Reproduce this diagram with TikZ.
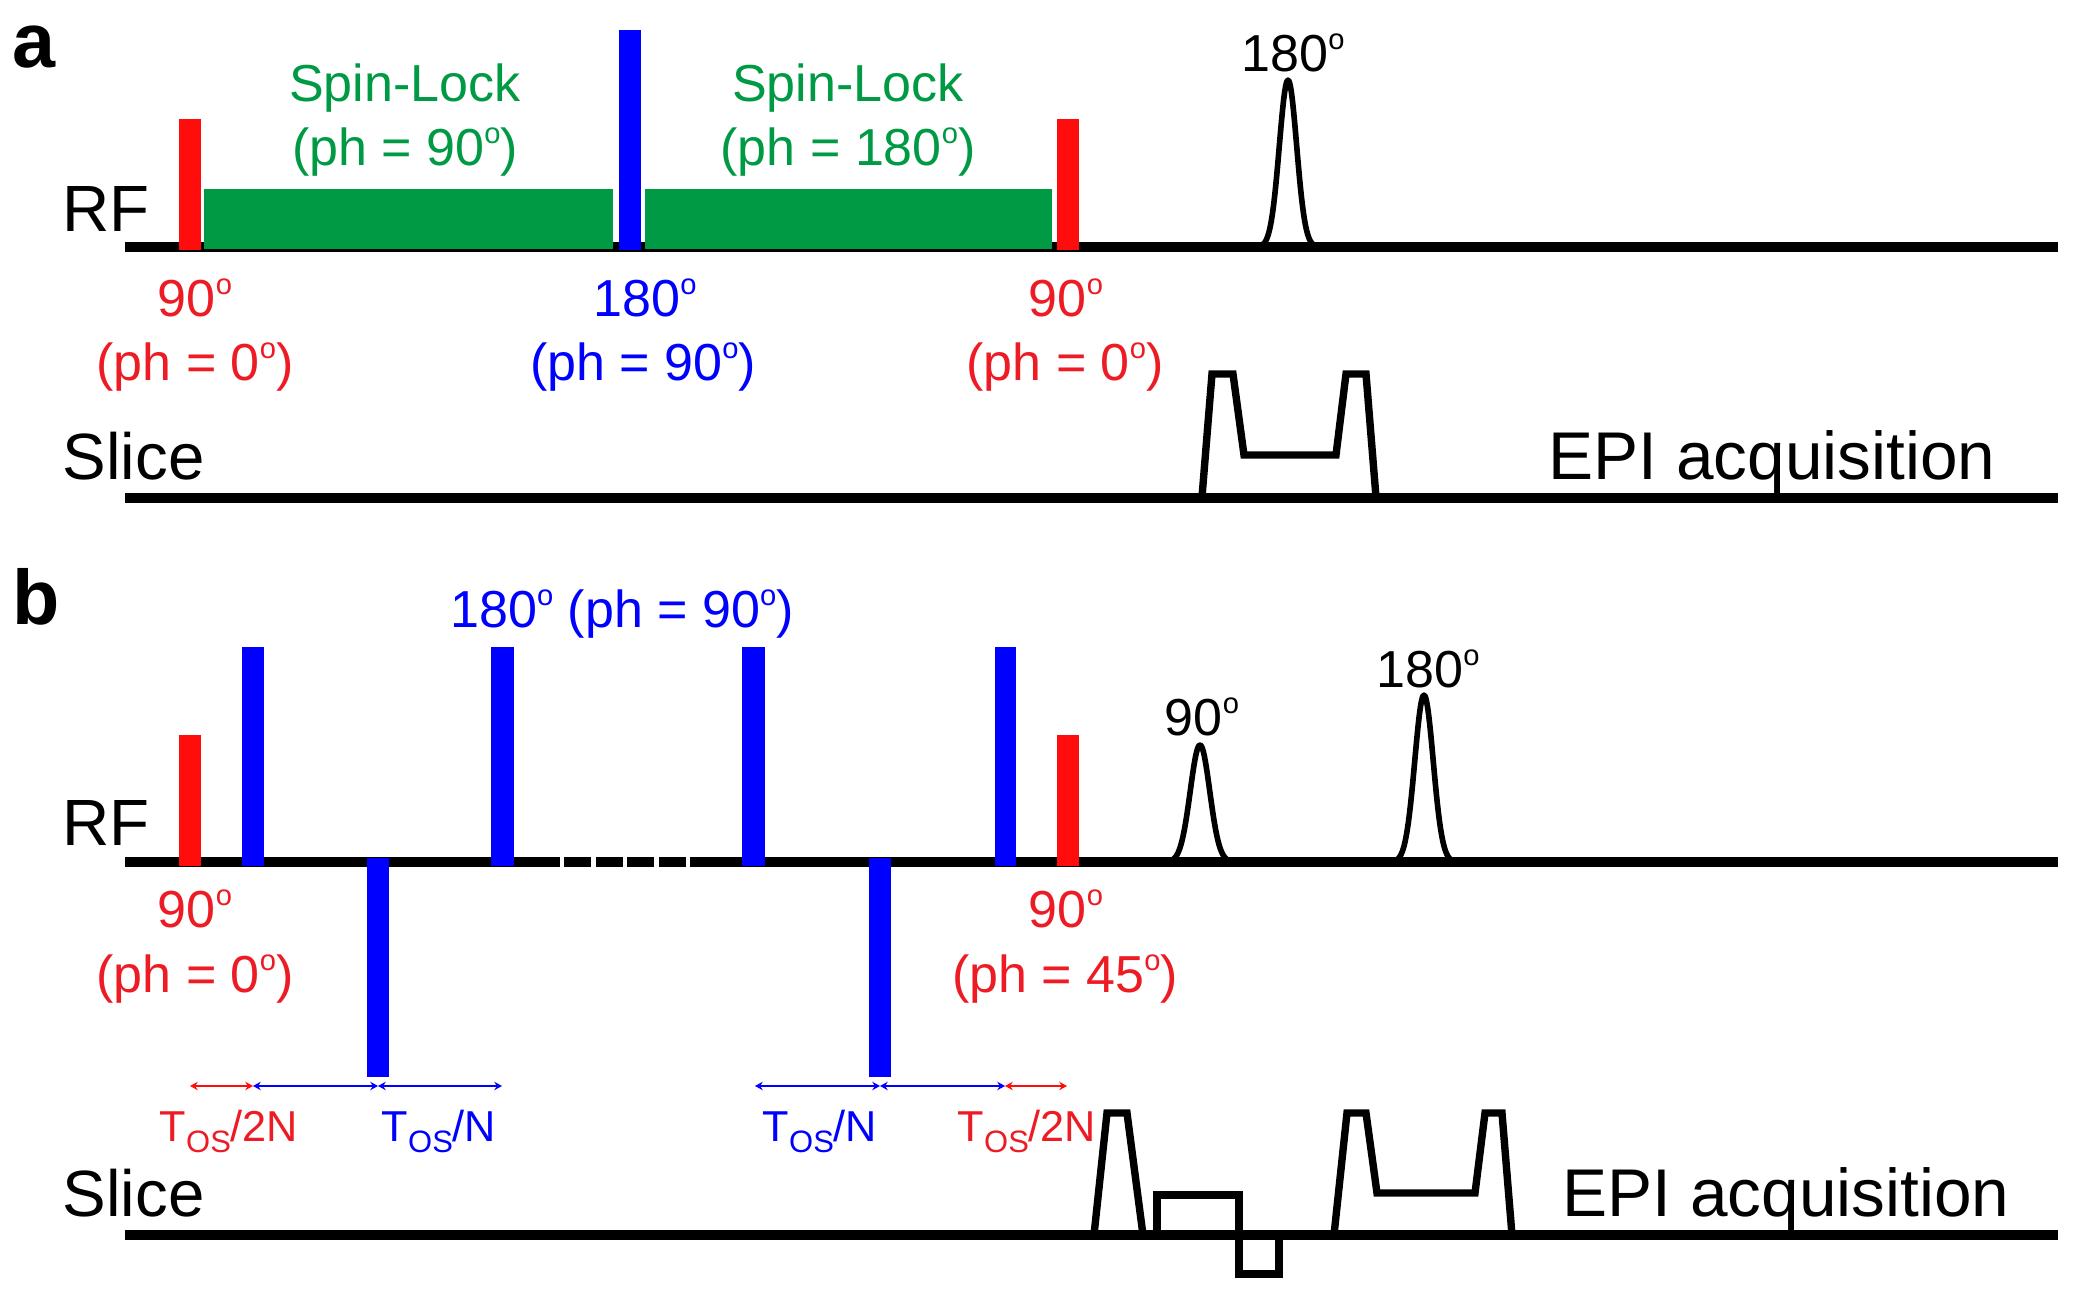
\documentclass[tikz,border=0pt]{standalone}
\usepackage{fontspec}
\setmainfont{Liberation Sans}
\usetikzlibrary{arrows.meta}
\definecolor{rfred}{RGB}{255,12,12}
\definecolor{txtred}{RGB}{237,28,36}
\definecolor{pblue}{RGB}{0,0,255}
\definecolor{slgreen}{RGB}{0,154,68}
\newcommand{\dgs}{\raisebox{0.43em}{\scalebox{0.56}{o}}}
\newcommand{\tos}{T\raisebox{-3.1pt}{\fontsize{8.8}{9}\selectfont OS}}
\begin{document}
\begin{tikzpicture}[x=0.01cm,y=-0.01cm,
  axisline/.style={line width=2.7pt, black},
  gradline/.style={line width=2.1pt, black, line join=miter},
  pulseline/.style={line width=1.6pt, black, line join=round},
  bigtxt/.style={font=\fontsize{18.6}{20}\selectfont, inner sep=0pt},
  epitxt/.style={font=\fontsize{19.2}{20}\selectfont, inner sep=0pt},
  midtxt/.style={font=\fontsize{14.8}{16}\selectfont, inner sep=0pt},
  smalltxt/.style={font=\fontsize{12.3}{13}\selectfont, inner sep=0pt},
  paneltxt/.style={font=\fontsize{22}{24}\selectfont\bfseries, inner sep=0pt},
  durarrow/.style={line width=0.6pt, {Stealth[length=2.2pt,width=2.4pt]}-{Stealth[length=2.2pt,width=2.4pt]}},
]
\useasboundingbox (0,0) rectangle (2074,1304);
\fill[white] (0,0) rectangle (2074,1304);

% ================= panel a =================
\node[paneltxt, anchor=base west] (la) at (12,68) {a};
\node[bigtxt, anchor=base west] (rfa) at (62,232) {RF};
\node[bigtxt, anchor=base west] (slicea) at (62,480) {Slice};
\node[epitxt, anchor=base] (epia) at (1772,480) {EPI acquisition};

\draw[axisline] (125,247) -- (2058,247);
\draw[axisline] (125,498) -- (2058,498);

\fill[slgreen] (204,189) rectangle (613,249);
\fill[slgreen] (645,189) rectangle (1052,249);
\fill[rfred] (179,119) rectangle (201,250);
\fill[pblue] (619,30) rectangle (641,250);
\fill[rfred] (1057,119) rectangle (1079,250);

\draw[pulseline] plot[domain=-44:44, samples=90] ({1288+\x},{247-167*exp(-((\x)*(\x))/150)});

\draw[gradline] (1202,497) -- (1212,374) -- (1233,374) -- (1244,455) -- (1336,455) -- (1346,374) -- (1366,374) -- (1376,497);

\node[midtxt, anchor=base, slgreen] (sla1) at (405,102) {Spin-Lock};
\node[midtxt, anchor=base, slgreen] (slb1) at (405,166) {(ph = 90\dgs)};
\node[midtxt, anchor=base, slgreen] (sla2) at (848,102) {Spin-Lock};
\node[midtxt, anchor=base, slgreen] (slb2) at (848,166) {(ph = 180\dgs)};
\node[midtxt, anchor=base, txtred] (a90l) at (195,317) {90\dgs};
\node[midtxt, anchor=base, txtred] (a90lp) at (195,381) {(ph = 0\dgs)};
\node[midtxt, anchor=base, pblue] (a180) at (645,317) {180\dgs};
\node[midtxt, anchor=base, pblue] (a180p) at (643,381) {(ph = 90\dgs)};
\node[midtxt, anchor=base, txtred] (a90r) at (1066,317) {90\dgs};
\node[midtxt, anchor=base, txtred] (a90rp) at (1065,381) {(ph = 0\dgs)};
\node[midtxt, anchor=base] (a180s) at (1293,72) {180\dgs};

% ================= panel b =================
\node[paneltxt, anchor=base west] (lb) at (12,625) {b};
\node[bigtxt, anchor=base west] (rfb) at (62,846) {RF};
\node[bigtxt, anchor=base west] (sliceb) at (62,1217) {Slice};
\node[epitxt, anchor=base] (epib) at (1786,1217) {EPI acquisition};

\draw[axisline] (125,862) -- (560,862);
\draw[axisline] (564,862) -- (591,862);
\draw[axisline] (596,862) -- (623,862);
\draw[axisline] (627,862) -- (654,862);
\draw[axisline] (659,862) -- (686,862);
\draw[axisline] (690,862) -- (2058,862);
\draw[axisline] (125,1235) -- (2058,1235);

\fill[rfred] (179,735) rectangle (201,866);
\fill[rfred] (1057,735) rectangle (1079,866);
\fill[pblue] (242,647) rectangle (264,866);
\fill[pblue] (491,647) rectangle (514,866);
\fill[pblue] (742,647) rectangle (765,866);
\fill[pblue] (995,647) rectangle (1016,866);
\fill[pblue] (367,858) rectangle (389,1077);
\fill[pblue] (869,858) rectangle (891,1077);

\draw[pulseline] plot[domain=-44:44, samples=90] ({1200+\x},{862-117*exp(-((\x)*(\x))/190)});
\draw[pulseline] plot[domain=-48:48, samples=90] ({1424+\x},{862-167*exp(-((\x)*(\x))/170)});

\draw[gradline] (1094,1235) -- (1107,1113) -- (1127,1113) -- (1143,1235);
\draw[gradline] (1157,1235) -- (1157,1195) -- (1239,1195) -- (1239,1274) -- (1279,1274) -- (1279,1235);
\draw[gradline] (1334,1235) -- (1347,1113) -- (1366,1113) -- (1377,1193) -- (1475,1193) -- (1485,1113) -- (1502,1113) -- (1512,1235);

\node[midtxt, anchor=base, pblue] (b180) at (622,628) {180\dgs{} (ph = 90\dgs)};
\node[midtxt, anchor=base, txtred] (b90l) at (195,928) {90\dgs};
\node[midtxt, anchor=base, txtred] (b90lp) at (195,993) {(ph = 0\dgs)};
\node[midtxt, anchor=base, txtred] (b90r) at (1066,928) {90\dgs};
\node[midtxt, anchor=base, txtred] (b90rp) at (1065,993) {(ph = 45\dgs)};
\node[midtxt, anchor=base] (b90s) at (1202,736) {90\dgs};
\node[midtxt, anchor=base] (b180s) at (1428,688) {180\dgs};

% durations
\coordinate (t0) at (190,1086);
\coordinate (t1) at (253,1086);
\coordinate (t2) at (378,1086);
\coordinate (t3) at (502,1086);
\coordinate (t4) at (755,1086);
\coordinate (t5) at (880,1086);
\coordinate (t6) at (1005,1086);
\coordinate (t7) at (1067,1086);
\draw[durarrow, rfred] (t0) -- (t1);
\draw[durarrow, pblue] (t1) -- (t2);
\draw[durarrow, pblue] (t2) -- (t3);
\draw[durarrow, pblue] (t4) -- (t5);
\draw[durarrow, pblue] (t5) -- (t6);
\draw[durarrow, rfred] (t6) -- (t7);

\node[smalltxt, anchor=base, txtred] (d1) at (229,1142) {\tos/2N};
\node[smalltxt, anchor=base, pblue] (d2) at (439,1142) {\tos/N};
\node[smalltxt, anchor=base, pblue] (d3) at (820,1142) {\tos/N};
\node[smalltxt, anchor=base, txtred] (d4) at (1027,1142) {\tos/2N};
\end{tikzpicture}
\end{document}
